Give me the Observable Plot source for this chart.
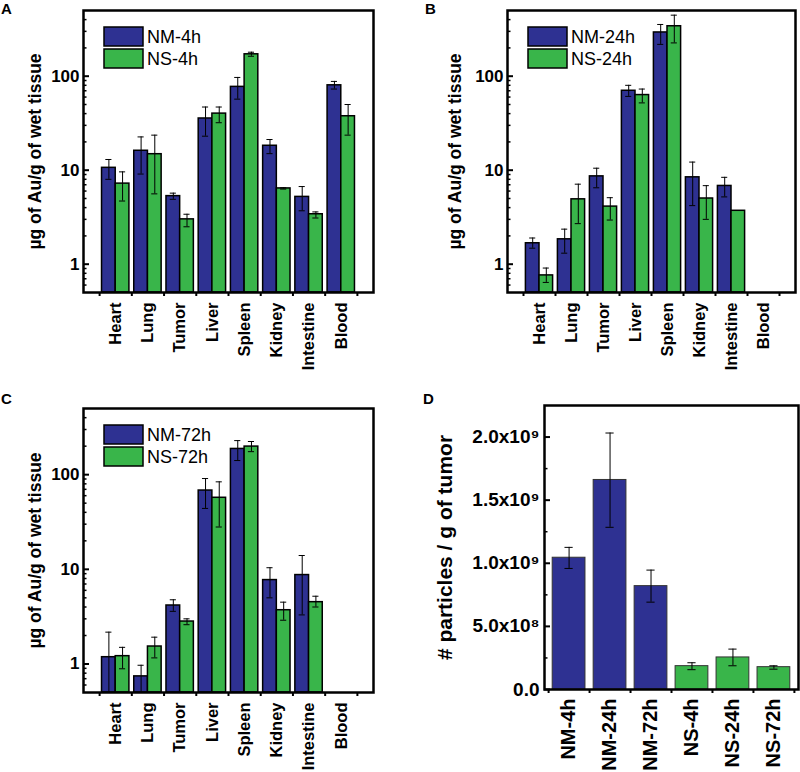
<!DOCTYPE html>
<html><head><meta charset="utf-8">
<script src="https://cdn.jsdelivr.net/npm/d3@7"></script>
<script src="https://cdn.jsdelivr.net/npm/@observablehq/plot@0.6"></script>
<style>
body{margin:0;background:#fff;}
#root{position:relative;width:800px;height:772px;font-family:"Liberation Sans",Arial,sans-serif;overflow:hidden;}
.panel{position:absolute;}
.letter{position:absolute;font-weight:bold;font-size:15px;line-height:15px;}
</style></head><body><div id="root"></div>
<script>
// ---------- data ----------
const organs = ["Heart", "Lung", "Tumor", "Liver", "Spleen", "Kidney", "Intestine", "Blood"];
const logTicks = [1, 10, 100];
const logMinor = [0.6, 0.7, 0.8, 0.9, 2, 3, 4, 5, 6, 7, 8, 9, 20, 30, 40, 50, 60, 70, 80, 90, 200, 300, 400];

// Panel A (4 h)
const nm4   = [10.6, 16.1, 5.3, 35.5, 77, 18.2, 5.2, 80];
const nm4Lo = [8.0, 9.1, 4.9, 23, 57, 15, 3.7, 73];
const nm4Hi = [13, 22.6, 5.7, 47, 97, 21.2, 6.7, 88];
const ns4   = [7.2, 14.8, 3.0, 40, 171, 6.4, 3.4, 37.5];
const ns4Lo = [4.7, 5.6, 2.5, 32, 163, 6.3, 3.1, 23.6];
const ns4Hi = [9.6, 23.6, 3.4, 47, 180, 6.5, 3.6, 50];

// Panel B (24 h)
const nm24   = [1.67, 1.84, 8.6, 70, 292, 8.4, 6.8, null];
const nm24Lo = [1.48, 1.31, 6.5, 61, 218, 4.2, 5.2, null];
const nm24Hi = [1.9, 2.36, 10.5, 80, 355, 12.2, 8.4, null];
const ns24   = [0.76, 4.9, 4.1, 63, 340, 5.0, 3.7, null];
const ns24Lo = [0.64, 2.7, 2.95, 52, 226, 3.0, null, null];
const ns24Hi = [0.91, 7.1, 5.1, 73, 446, 6.85, null, null];

// Panel C (72 h)
const nm72   = [1.18, 0.74, 4.15, 68, 187, 7.7, 8.7, null];
const nm72Lo = [0.3, 0.4, 3.6, 44, 141, 5.0, 3.3, null];
const nm72Hi = [2.17, 0.97, 4.77, 91, 229, 10.4, 14, null];
const ns72   = [1.21, 1.53, 2.81, 57, 198, 3.7, 4.5, null];
const ns72Lo = [0.89, 1.16, 2.6, 28, 175, 2.9, 4.0, null];
const ns72Hi = [1.5, 1.92, 3.0, 84, 224, 4.5, 5.2, null];

// Panel D (tumor particles)
const dGroups = ["NM-4h", "NM-24h", "NM-72h", "NS-4h", "NS-24h", "NS-72h"];
const dValues = [1.044e9, 1.66e9, 0.819e9, 0.185e9, 0.254e9, 0.177e9];
const dLo     = [0.959e9, 1.285e9, 0.692e9, 0.157e9, 0.188e9, 0.161e9];
const dHi     = [1.126e9, 2.032e9, 0.946e9, 0.212e9, 0.320e9, 0.188e9];
const dTicks  = [0, 5e8, 1e9, 1.5e9, 2e9];
const dTickLabels = ["0.0", "5.0x10⁸", "1.0x10⁹", "1.5x10⁹", "2.0x10⁹"];
const dMinor  = [2.5e8, 7.5e8, 1.25e9, 1.75e9];

const BLUE = "#2e3192", GREEN = "#39b54a";
const FONT = '"Liberation Sans", Arial, sans-serif';

// ---------- helpers ----------
function rowsFor(vals, lo, hi, series) {
  return vals.map((v, k) => ({i: k + 1, series, v, lo: lo[k], hi: hi[k]})).filter(d => d.v != null);
}

function legendMark(labels, colors) {
  return (index, scales, values, dims) => {
    const g = d3.create("svg:g");
    labels.forEach((lab, k) => {
      const y = dims.marginTop + 17 + k * 22;
      const x = dims.marginLeft + 21;
      g.append("rect").attr("x", x).attr("y", y).attr("width", 39).attr("height", 19)
        .attr("fill", colors[k]).attr("stroke", "black").attr("stroke-width", 1.5);
      g.append("text").attr("x", x + 43).attr("y", y + 10).attr("dy", "0.36em")
        .attr("text-anchor", "start").style("text-anchor", "start")
        .style("font-size", "18px").style("font-weight", "normal")
        .attr("font-family", FONT).attr("fill", "black").text(lab);
    });
    return g.node();
  };
}

function logPanel(cfg) {
  const rows = [...rowsFor(cfg.nm, cfg.nmLo, cfg.nmHi, "NM"), ...rowsFor(cfg.ns, cfg.nsLo, cfg.nsHi, "NS")];
  const half = 0.425, cap = 0.095;
  const cx = d => d.series === "NM" ? d.i - half / 2 : d.i + half / 2;
  const err = rows.filter(d => d.lo != null);
  const idx = organs.map((o, k) => k + 1);
  const edges = [0, ...idx].map(k => k + 0.5);
  return Plot.plot({
    width: 400, height: 386,
    marginLeft: cfg.ml, marginRight: cfg.mr, marginTop: cfg.mt, marginBottom: cfg.mb,
    style: {fontFamily: FONT, color: "black", background: "white", overflow: "visible"},
    x: {type: "linear", domain: [0, organs.length + 1]},
    y: {type: "log", domain: [0.5, 500]},
    color: {domain: ["NM", "NS"], range: [BLUE, GREEN]},
    marks: [
      Plot.rect(rows, {x1: d => d.series === "NM" ? d.i - half : d.i, x2: d => d.series === "NM" ? d.i : d.i + half,
        y1: 0.5, y2: "v", fill: "series", stroke: "black", strokeWidth: 1.5}),
      Plot.ruleX(err, {x: cx, y1: "lo", y2: "hi", stroke: "black", strokeWidth: 1, clip: true}),
      Plot.ruleY(err, {y: "lo", x1: d => cx(d) - cap, x2: d => cx(d) + cap, stroke: "black", strokeWidth: 1, clip: true}),
      Plot.ruleY(err, {y: "hi", x1: d => cx(d) - cap, x2: d => cx(d) + cap, stroke: "black", strokeWidth: 1, clip: true}),
      Plot.frame({stroke: "black", strokeWidth: 2.5}),
      Plot.axisY({ticks: logTicks, tickSize: 0, tickPadding: 4, tickFormat: d => String(d), fontSize: 17, fontWeight: "bold", label: null}),
      Plot.axisY({ticks: logTicks, tickSize: -6, tickFormat: () => "", strokeWidth: 2, label: null}),
      Plot.axisY({ticks: logMinor, tickSize: -3.5, tickFormat: () => "", strokeWidth: 1.5, label: null}),
      Plot.axisY({ticks: [], label: "µg of Au/g of wet tissue", labelAnchor: "center", labelArrow: "none", labelOffset: cfg.lo, fontSize: 17.5, fontWeight: "bold"}),
      Plot.axisX({ticks: idx, tickFormat: i => organs[i - 1], tickSize: 0, tickPadding: 10, tickRotate: -90, fontSize: 16.5, fontWeight: "bold", label: null}),
      Plot.axisX({ticks: edges, tickSize: 4, tickFormat: () => "", strokeWidth: 2, label: null}),
      legendMark(cfg.legend, [BLUE, GREEN])
    ]
  });
}

function dPanel() {
  const rows = dGroups.map((g, k) => ({i: k + 1, g, series: g.slice(0, 2), v: dValues[k], lo: dLo[k], hi: dHi[k]}));
  const half = 0.4, cap = 0.1;
  const idx = rows.map(d => d.i);
  const edges = [0, ...idx].map(k => k + 0.5);
  return Plot.plot({
    width: 400, height: 386,
    marginLeft: 144, marginRight: 2, marginTop: 19, marginBottom: 83,
    style: {fontFamily: FONT, color: "black", background: "white", overflow: "visible"},
    x: {type: "linear", domain: [0.4, dGroups.length + 0.6]},
    y: {domain: [0, 2.25e9]},
    color: {domain: ["NM", "NS"], range: [BLUE, GREEN]},
    marks: [
      Plot.rect(rows, {x1: d => d.i - half, x2: d => d.i + half, y1: 0, y2: "v", fill: "series", stroke: "#333", strokeWidth: 1}),
      Plot.ruleX(rows, {x: "i", y1: "lo", y2: "hi", stroke: "black", strokeWidth: 1}),
      Plot.ruleY(rows, {y: "lo", x1: d => d.i - cap, x2: d => d.i + cap, stroke: "black", strokeWidth: 1}),
      Plot.ruleY(rows, {y: "hi", x1: d => d.i - cap, x2: d => d.i + cap, stroke: "black", strokeWidth: 1}),
      Plot.frame({stroke: "black", strokeWidth: 2.5}),
      Plot.axisY({ticks: dTicks, tickSize: 0, tickPadding: 5, tickFormat: d => dTickLabels[dTicks.indexOf(d)], fontSize: 19, fontWeight: "bold", label: null}),
      Plot.axisY({ticks: dTicks, tickSize: -6, tickFormat: () => "", strokeWidth: 2, label: null}),
      Plot.axisY({ticks: dMinor, tickSize: -3.5, tickFormat: () => "", strokeWidth: 1.5, label: null}),
      Plot.axisY({ticks: [], label: "# particles / g of tumor", labelAnchor: "center", labelArrow: "none", labelOffset: 107, fontSize: 21, fontWeight: "bold"}),
      Plot.axisX({ticks: idx, tickFormat: i => dGroups[i - 1], tickSize: 0, tickPadding: 9, tickRotate: -90, fontSize: 20, fontWeight: "bold", label: null}),
      Plot.axisX({ticks: edges, tickSize: 4, tickFormat: () => "", strokeWidth: 2, label: null})
    ]
  });
}

// ---------- layout ----------
const root = document.getElementById("root");
function place(node, left, top) {
  const wrap = document.createElement("div");
  wrap.className = "panel";
  wrap.style.left = left + "px"; wrap.style.top = top + "px";
  wrap.appendChild(node);
  root.appendChild(wrap);
}
function letter(t, left, top) {
  const d = document.createElement("div");
  d.className = "letter"; d.textContent = t;
  d.style.left = left + "px"; d.style.top = top + "px";
  root.appendChild(d);
}

place(logPanel({nm: nm4, nmLo: nm4Lo, nmHi: nm4Hi, ns: ns4, nsLo: ns4Lo, nsHi: ns4Hi,
  ml: 83, mr: 27, mt: 10, mb: 94, lo: 55, legend: ["NM-4h", "NS-4h"]}), 0, 0);
place(logPanel({nm: nm24, nmLo: nm24Lo, nmHi: nm24Hi, ns: ns24, nsLo: ns24Lo, nsHi: ns24Hi,
  ml: 107, mr: 5, mt: 10, mb: 94, lo: 59, legend: ["NM-24h", "NS-24h"]}), 400, 0);
place(logPanel({nm: nm72, nmLo: nm72Lo, nmHi: nm72Hi, ns: ns72, nsLo: ns72Lo, nsHi: ns72Hi,
  ml: 83, mr: 27, mt: 22, mb: 80, lo: 55, legend: ["NM-72h", "NS-72h"]}), 0, 386);
place(dPanel(), 400, 386);

letter("A", 1, 1);
letter("B", 425, 1);
letter("C", 1, 391);
letter("D", 423, 391);
</script></body></html>
